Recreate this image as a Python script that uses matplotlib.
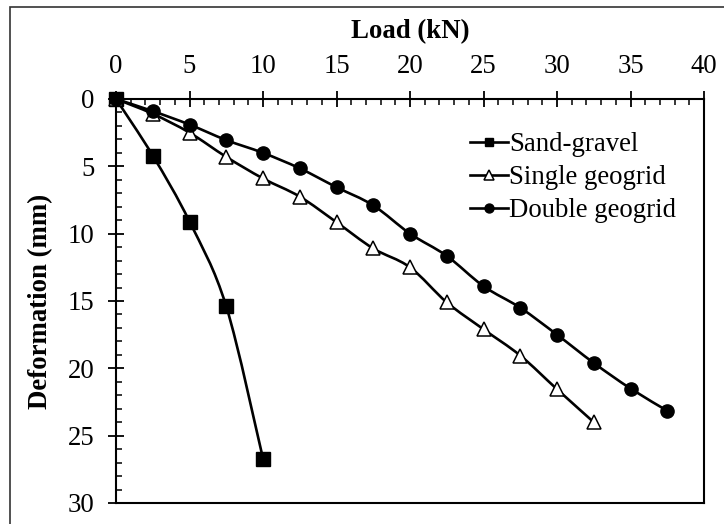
import numpy as np
import matplotlib
matplotlib.use("Agg")
import matplotlib.pyplot as plt
from matplotlib.path import Path
from matplotlib.patches import PathPatch, Rectangle
from matplotlib.lines import Line2D
from matplotlib.ticker import MultipleLocator

plt.rcParams['font.family'] = ['Liberation Serif', 'DejaVu Serif']

# ---- data ----
sand_load = [0, 2.5, 5, 7.5, 10]
sand_def = [0, 4.2, 9.1, 15.4, 26.7]

single_load = [0, 2.5, 5, 7.5, 10, 12.5, 15, 17.5, 20, 22.5, 25, 27.5, 30, 32.5]
single_def = [0, 1.1, 2.5, 4.3, 5.9, 7.25, 9.15, 11.1, 12.5, 15.1, 17.1, 19.05, 21.55, 24.0]

double_load = [0, 2.5, 5, 7.5, 10, 12.5, 15, 17.5, 20, 22.5, 25, 27.5, 30, 32.5, 35, 37.5]
double_def = [0, 0.9, 1.9, 3.05, 4.0, 5.15, 6.55, 7.9, 10.0, 11.65, 13.9, 15.5, 17.5, 19.6, 21.5, 23.15]

series_names = ["Sand-gravel", "Single geogrid", "Double geogrid"]
x_ticks = [0, 5, 10, 15, 20, 25, 30, 35, 40]
y_ticks = [0, 5, 10, 15, 20, 25, 30]


def smooth_path(xs, ys):
    """Excel-like smoothed line as cubic Bezier segments through the points."""
    p = np.column_stack([xs, ys]).astype(float)
    n = len(p)
    verts = [p[0]]
    codes = [Path.MOVETO]
    for i in range(n - 1):
        p0 = p[i - 1] if i > 0 else p[i]
        p1 = p[i]
        p2 = p[i + 1]
        p3 = p[i + 2] if i + 2 < n else p[i + 1]
        c1 = p1 + (p2 - p0) / 6.0
        c2 = p2 - (p3 - p1) / 6.0
        verts += [c1, c2, p2]
        codes += [Path.CURVE4] * 3
    return Path(verts, codes)


W, H = 724, 524
FS = 19.3
fig = plt.figure(figsize=(W / 100, H / 100), dpi=100)
ax = fig.add_axes([116 / W, 1 - 503 / H, (704 - 116) / W, (503 - 99) / H])

lw = 1.9
specs = [
    (sand_load, sand_def, dict(marker='s', markersize=9.5, markerfacecolor='black', markeredgecolor='black')),
    (single_load, single_def, dict(marker='^', markersize=10, markerfacecolor='white', markeredgecolor='black', markeredgewidth=1.1)),
    (double_load, double_def, dict(marker='o', markersize=9.5, markerfacecolor='black', markeredgecolor='black')),
]
handles = []
for (xs, ys, mk), name in zip(specs, series_names):
    ax.add_patch(PathPatch(smooth_path(xs, ys), facecolor='none', edgecolor='black', lw=lw, zorder=2))
    ax.plot(xs, ys, linestyle='none', zorder=3, clip_on=False, **mk)
    hmk = dict(mk)
    hmk['markersize'] = mk['markersize'] * 0.68
    handles.append(Line2D([], [], color='black', lw=lw, label=name, **hmk))

ax.set_xlim(0, 40)
ax.set_ylim(30, 0)
ax.xaxis.tick_top()
ax.xaxis.set_label_position('top')
ax.set_xticks(x_ticks)
ax.set_yticks(y_ticks)
ax.xaxis.set_minor_locator(MultipleLocator(1))
ax.yaxis.set_minor_locator(MultipleLocator(1))

ax.tick_params(which='major', direction='inout', length=11, width=1.3, labelsize=FS, colors='black')
ax.tick_params(axis='x', which='major', pad=9)
ax.tick_params(axis='y', which='major', pad=10)
ax.tick_params(which='minor', direction='in', length=4, width=1.1)
ax.tick_params(axis='x', which='both', bottom=False, top=True)
ax.tick_params(axis='y', which='both', left=True, right=False)

for s in ax.spines.values():
    s.set_linewidth(1.5)
    s.set_color('black')

ax.set_xlabel("Load (kN)", fontsize=FS, fontweight='bold', labelpad=11.5)
ax.set_ylabel("Deformation (mm)", fontsize=FS, fontweight='bold', labelpad=10.5)

ax.legend(handles=handles, loc='upper left', bbox_to_anchor=(0.602, 0.918), frameon=False,
          fontsize=FS, handlelength=1.4, handletextpad=0.05, labelspacing=0.3,
          borderaxespad=0.0, borderpad=0.0)

# outer picture frame (right and bottom edges cropped off)
fig.patches.append(Rectangle((10 / W, -0.1), 1.2, 1.1 - 7 / H, transform=fig.transFigure,
                             facecolor='none', edgecolor='#333333', lw=1.2))

fig.savefig("out.png", dpi=100)
